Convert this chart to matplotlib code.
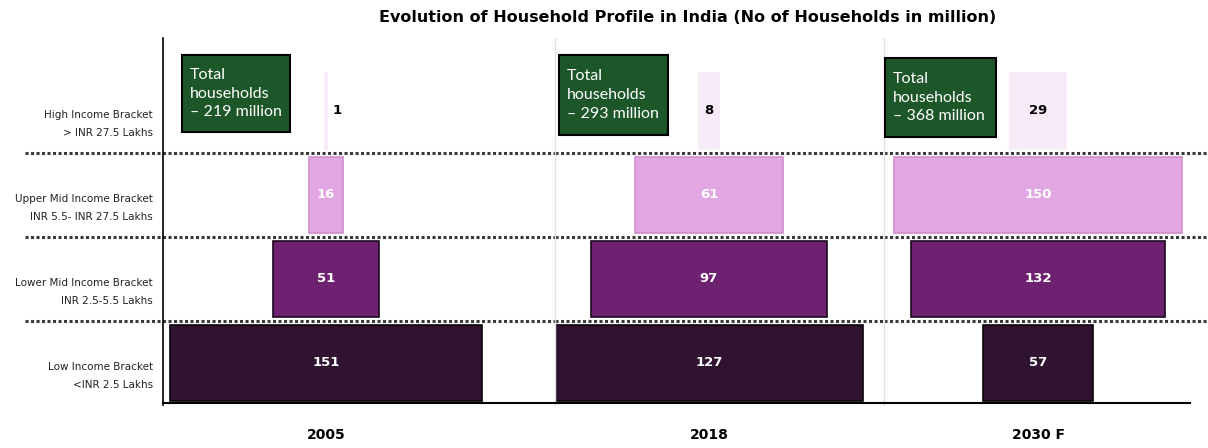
import numpy as np
import matplotlib.pyplot as plt
from matplotlib.patches import Rectangle
from matplotlib.transforms import blended_transform_factory

plt.rcParams['font.family'] = ['DejaVu Sans']

# --- data (million households) ---
years = ['2005', '2018', '2030 F']
brackets = ['High Income Bracket', 'Upper Mid Income Bracket',
            'Lower Mid Income Bracket', 'Low Income Bracket']
ranges = ['> INR 27.5 Lakhs', 'INR 5.5- INR 27.5 Lakhs',
          'INR 2.5-5.5 Lakhs', '<INR 2.5 Lakhs']
high = [1, 8, 29]
upper_mid = [16, 61, 150]
lower_mid = [51, 97, 132]
low = [151, 127, 57]

# --- styling / layout ---
W, H = 1208, 448
bar_colors = ['#f6ebf6', '#e2a6e2', '#6e2170', '#301231']
edge_colors = ['#f6ebf6', '#cf8fcf', '#1a081a', '#0c030c']
text_colors = ['black', 'white', 'white', 'white']
row_y = [3, 2, 1, 0]
panel_px = [(163, 555), (555, 884), (884, 1208)]   # left/right edge of each panel
center_px = [326, 709, 1038]                        # centre of the funnel
px_per_unit = [2.07, 2.43, 1.92]
box_px = [(182, 55, 108, 77), (559, 55, 109, 80), (885, 58, 111, 79)]
ax_top, ax_bot = 38, 405
px_per_row = 84.0
ylim = (-0.5, -0.5 + (ax_bot - ax_top) / px_per_row)

series = [high, upper_mid, lower_mid, low]

fig = plt.figure(figsize=(W / 100, H / 100), dpi=100)

axes = []
for i, yr in enumerate(years):
    x0, x1 = panel_px[i]
    ax = fig.add_axes([x0 / W, 1 - ax_bot / H, (x1 - x0) / W, (ax_bot - ax_top) / H])
    ax.set_facecolor('none')
    c, s = center_px[i], px_per_unit[i]
    ax.set_xlim((x0 - c) / s, (x1 - c) / s)
    ax.set_ylim(*ylim)
    ax.set_xticks([])
    ax.set_yticks([])
    for sp in ['top', 'right', 'bottom']:
        ax.spines[sp].set_visible(False)
    if i == 0:
        ax.spines['left'].set_color('black')
        ax.spines['left'].set_linewidth(1.2)
    else:
        ax.spines['left'].set_color('#e2e2e2')
        ax.spines['left'].set_linewidth(1.0)

    # dotted row separators
    trans = blended_transform_factory(ax.transAxes, ax.transData)
    xstart = (25 - x0) / (x1 - x0) if i == 0 else 0
    for yb in [0.5, 1.5, 2.5]:
        ax.plot([xstart, 1], [yb, yb], transform=trans, color='#3a3a3a',
                lw=2.2, ls=(0, (1, 0.8)), clip_on=False, zorder=1)

    # bottom line
    xend = (1190 - x0) / (x1 - x0) if i == 2 else 1
    ax.plot([0, xend], [-0.475, -0.475], transform=trans, color='black', lw=1.5,
            clip_on=False, zorder=3)

    # centred bars
    for r, vals in enumerate(series):
        v = vals[i]
        ax.barh(row_y[r], v, left=-v / 2, height=0.9, color=bar_colors[r],
                edgecolor=edge_colors[r], linewidth=1.2, zorder=2)
        xt = 0 if v >= 5 else v / 2 + 5
        ax.text(xt, row_y[r], str(v), ha='center', va='center', fontsize=9.5,
                fontweight='bold', color=text_colors[r], zorder=4)

    ax.text(0, -0.5 - 30 / px_per_row, yr, ha='center', va='center', fontsize=10,
            fontweight='bold', clip_on=False)

    # total households box
    bx, by, bw, bh = box_px[i]
    fig.patches.append(Rectangle((bx / W, 1 - (by + bh) / H), bw / W, bh / H,
                                 transform=fig.transFigure, facecolor='#1d5628',
                                 edgecolor='black', linewidth=1.5, zorder=5))
    total = sum(vals[i] for vals in series)
    fig.text((bx + 8) / W, 1 - (by + bh / 2) / H,
             f'Total\nhouseholds\n\u2013 {total} million', ha='left', va='center',
             fontsize=11.5, family=['Lato', 'DejaVu Sans'], color='white',
             linespacing=1.45, zorder=6)
    axes.append(ax)

# row labels on the left
ax0 = axes[0]
trans0 = blended_transform_factory(ax0.transAxes, ax0.transData)
xl = (153 - panel_px[0][0]) / (panel_px[0][1] - panel_px[0][0])
for r in range(len(brackets)):
    ax0.text(xl, row_y[r] - 0.15, f'{brackets[r]}\n{ranges[r]}', transform=trans0,
             ha='right', va='center', fontsize=7.5, color='#222222',
             linespacing=2.0, clip_on=False)

fig.text(688 / W, 1 - 18 / H,
         'Evolution of Household Profile in India (No of Households in million)',
         ha='center', va='center', fontsize=11.5, fontweight='bold')

fig.savefig('out.png', dpi=100)
